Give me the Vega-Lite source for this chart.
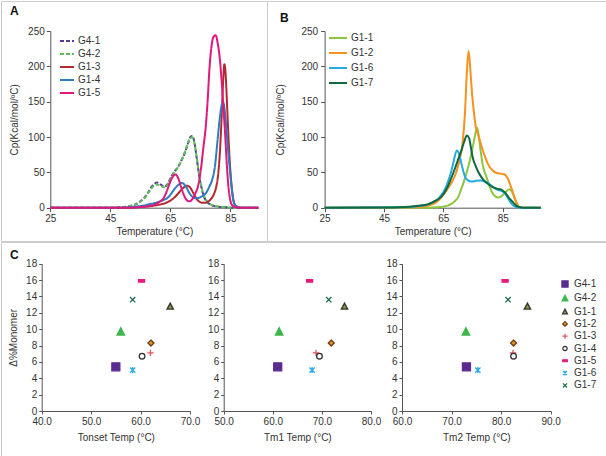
{
"$schema": "https://vega.github.io/schema/vega-lite/v6.json",
"padding": 0,
"background": "white",
"config": {
  "font": "Liberation Sans",
  "view": {"stroke": "#cccccc", "strokeWidth": 1},
  "axis": {"labelFontSize": 10, "titleFontSize": 10, "labelColor": "#333333", "titleColor": "#333333", "titleFontWeight": "normal", "domainColor": "#555555", "tickColor": "#555555", "grid": false, "tickSize": 4, "labelPadding": 2, "labelFlush": false},
  "legend": {"labelFontSize": 10, "labelColor": "#333333", "padding": 0},
  "title": {"fontSize": 12, "fontWeight": "bold", "anchor": "start", "frame": "group", "baseline": "top", "offset": 0, "color": "#111111"}
},
"datasets": {
  "curvesA": [
{"s":"G4-1","t":25,"cp":0},{"s":"G4-1","t":45,"cp":0},{"s":"G4-1","t":48,"cp":0.5},{"s":"G4-1","t":51,"cp":2},{"s":"G4-1","t":53,"cp":4},{"s":"G4-1","t":55,"cp":9},{"s":"G4-1","t":56.5,"cp":15},{"s":"G4-1","t":57.5,"cp":21},{"s":"G4-1","t":58.5,"cp":28},{"s":"G4-1","t":59.5,"cp":33},{"s":"G4-1","t":60.6,"cp":35.5},{"s":"G4-1","t":61.7,"cp":33},{"s":"G4-1","t":63,"cp":30},{"s":"G4-1","t":64,"cp":33},{"s":"G4-1","t":65.2,"cp":43},{"s":"G4-1","t":66.3,"cp":51},{"s":"G4-1","t":67.5,"cp":57},{"s":"G4-1","t":68.6,"cp":66},{"s":"G4-1","t":69.7,"cp":76},{"s":"G4-1","t":70.8,"cp":90},{"s":"G4-1","t":71.7,"cp":100},{"s":"G4-1","t":72.3,"cp":101.5},{"s":"G4-1","t":73,"cp":93},{"s":"G4-1","t":73.6,"cp":76},{"s":"G4-1","t":74.2,"cp":57},{"s":"G4-1","t":74.7,"cp":42},{"s":"G4-1","t":75.3,"cp":30},{"s":"G4-1","t":75.8,"cp":21},{"s":"G4-1","t":76.6,"cp":12},{"s":"G4-1","t":77.5,"cp":7},{"s":"G4-1","t":78.5,"cp":4},{"s":"G4-1","t":80,"cp":2},{"s":"G4-1","t":82,"cp":1},{"s":"G4-1","t":84,"cp":0.5},{"s":"G4-1","t":86,"cp":0},{"s":"G4-1","t":94.3,"cp":0},
{"s":"G4-2","t":25,"cp":0},{"s":"G4-2","t":45,"cp":0},{"s":"G4-2","t":48,"cp":0.4},{"s":"G4-2","t":51,"cp":1.8},{"s":"G4-2","t":53,"cp":3.8},{"s":"G4-2","t":55,"cp":8.5},{"s":"G4-2","t":56.5,"cp":14},{"s":"G4-2","t":57.5,"cp":20},{"s":"G4-2","t":58.5,"cp":26},{"s":"G4-2","t":59.5,"cp":31},{"s":"G4-2","t":60.6,"cp":33},{"s":"G4-2","t":61.7,"cp":31},{"s":"G4-2","t":63,"cp":29},{"s":"G4-2","t":64,"cp":32},{"s":"G4-2","t":65.2,"cp":42},{"s":"G4-2","t":66.3,"cp":50},{"s":"G4-2","t":67.5,"cp":57},{"s":"G4-2","t":68.6,"cp":66},{"s":"G4-2","t":69.7,"cp":77},{"s":"G4-2","t":70.8,"cp":91},{"s":"G4-2","t":71.7,"cp":99},{"s":"G4-2","t":72.3,"cp":99.5},{"s":"G4-2","t":73,"cp":92},{"s":"G4-2","t":73.6,"cp":77},{"s":"G4-2","t":74.2,"cp":58},{"s":"G4-2","t":74.7,"cp":43},{"s":"G4-2","t":75.3,"cp":31},{"s":"G4-2","t":75.8,"cp":22},{"s":"G4-2","t":76.6,"cp":13},{"s":"G4-2","t":77.5,"cp":7.5},{"s":"G4-2","t":78.5,"cp":4.5},{"s":"G4-2","t":80,"cp":2.5},{"s":"G4-2","t":82,"cp":1.2},{"s":"G4-2","t":84,"cp":0.5},{"s":"G4-2","t":86,"cp":0},{"s":"G4-2","t":94.3,"cp":0},
{"s":"G1-3","t":25,"cp":0},{"s":"G1-3","t":50,"cp":0},{"s":"G1-3","t":55,"cp":1},{"s":"G1-3","t":58,"cp":2},{"s":"G1-3","t":61,"cp":4},{"s":"G1-3","t":63,"cp":6},{"s":"G1-3","t":65,"cp":10},{"s":"G1-3","t":66.5,"cp":15},{"s":"G1-3","t":68,"cp":22},{"s":"G1-3","t":69.3,"cp":28},{"s":"G1-3","t":70.5,"cp":31},{"s":"G1-3","t":71.5,"cp":29},{"s":"G1-3","t":72.5,"cp":22},{"s":"G1-3","t":73.5,"cp":14},{"s":"G1-3","t":74.5,"cp":9},{"s":"G1-3","t":75.5,"cp":7},{"s":"G1-3","t":76.5,"cp":7},{"s":"G1-3","t":77.5,"cp":8.5},{"s":"G1-3","t":78.5,"cp":12},{"s":"G1-3","t":79.5,"cp":19},{"s":"G1-3","t":80.3,"cp":30},{"s":"G1-3","t":81,"cp":50},{"s":"G1-3","t":81.6,"cp":85},{"s":"G1-3","t":82.1,"cp":130},{"s":"G1-3","t":82.6,"cp":180},{"s":"G1-3","t":83,"cp":203},{"s":"G1-3","t":83.4,"cp":190},{"s":"G1-3","t":83.8,"cp":155},{"s":"G1-3","t":84.2,"cp":115},{"s":"G1-3","t":84.6,"cp":80},{"s":"G1-3","t":85,"cp":52},{"s":"G1-3","t":85.5,"cp":27},{"s":"G1-3","t":86,"cp":11},{"s":"G1-3","t":86.5,"cp":4},{"s":"G1-3","t":87.5,"cp":1},{"s":"G1-3","t":89,"cp":0},{"s":"G1-3","t":94.3,"cp":0},
{"s":"G1-4","t":25,"cp":0},{"s":"G1-4","t":48,"cp":0},{"s":"G1-4","t":52,"cp":1},{"s":"G1-4","t":56,"cp":3},{"s":"G1-4","t":58,"cp":5},{"s":"G1-4","t":60.2,"cp":7},{"s":"G1-4","t":62,"cp":10},{"s":"G1-4","t":64.1,"cp":14},{"s":"G1-4","t":65.3,"cp":20},{"s":"G1-4","t":66.3,"cp":26},{"s":"G1-4","t":67.6,"cp":32},{"s":"G1-4","t":68.8,"cp":35},{"s":"G1-4","t":70,"cp":31},{"s":"G1-4","t":71.3,"cp":21},{"s":"G1-4","t":72.3,"cp":15.5},{"s":"G1-4","t":73.5,"cp":13.5},{"s":"G1-4","t":74.5,"cp":14},{"s":"G1-4","t":75.7,"cp":16.5},{"s":"G1-4","t":76.9,"cp":21},{"s":"G1-4","t":78,"cp":30},{"s":"G1-4","t":79.1,"cp":42},{"s":"G1-4","t":79.9,"cp":60},{"s":"G1-4","t":80.6,"cp":90},{"s":"G1-4","t":81.3,"cp":120},{"s":"G1-4","t":82,"cp":143},{"s":"G1-4","t":82.5,"cp":150},{"s":"G1-4","t":83.1,"cp":138},{"s":"G1-4","t":83.7,"cp":110},{"s":"G1-4","t":84.3,"cp":78},{"s":"G1-4","t":84.8,"cp":55},{"s":"G1-4","t":85.3,"cp":33},{"s":"G1-4","t":85.8,"cp":15},{"s":"G1-4","t":86.4,"cp":5},{"s":"G1-4","t":87.2,"cp":1.5},{"s":"G1-4","t":88.5,"cp":0},{"s":"G1-4","t":94.3,"cp":0},
{"s":"G1-5","t":25,"cp":0},{"s":"G1-5","t":50,"cp":0},{"s":"G1-5","t":55,"cp":1},{"s":"G1-5","t":58,"cp":2.5},{"s":"G1-5","t":60.2,"cp":5},{"s":"G1-5","t":61.5,"cp":8.5},{"s":"G1-5","t":62.5,"cp":12},{"s":"G1-5","t":63.5,"cp":20},{"s":"G1-5","t":64.3,"cp":29},{"s":"G1-5","t":65.3,"cp":40},{"s":"G1-5","t":66.7,"cp":47},{"s":"G1-5","t":67.7,"cp":41},{"s":"G1-5","t":68.6,"cp":29},{"s":"G1-5","t":69.5,"cp":18},{"s":"G1-5","t":70.5,"cp":10.5},{"s":"G1-5","t":71.3,"cp":9},{"s":"G1-5","t":72.3,"cp":12},{"s":"G1-5","t":73.3,"cp":20},{"s":"G1-5","t":74.3,"cp":32},{"s":"G1-5","t":75.2,"cp":55},{"s":"G1-5","t":76,"cp":85},{"s":"G1-5","t":76.8,"cp":115},{"s":"G1-5","t":77.4,"cp":150},{"s":"G1-5","t":78,"cp":195},{"s":"G1-5","t":78.7,"cp":228},{"s":"G1-5","t":79.4,"cp":242},{"s":"G1-5","t":80.1,"cp":244},{"s":"G1-5","t":80.8,"cp":232},{"s":"G1-5","t":81.5,"cp":210},{"s":"G1-5","t":82.1,"cp":178},{"s":"G1-5","t":82.7,"cp":140},{"s":"G1-5","t":83.3,"cp":100},{"s":"G1-5","t":83.8,"cp":62},{"s":"G1-5","t":84.3,"cp":32},{"s":"G1-5","t":84.9,"cp":12},{"s":"G1-5","t":85.5,"cp":4},{"s":"G1-5","t":86.5,"cp":1},{"s":"G1-5","t":88,"cp":0},{"s":"G1-5","t":94.3,"cp":0}
  ],
  "curvesB": [
{"s":"G1-1","t":25,"cp":0},{"s":"G1-1","t":60,"cp":0},{"s":"G1-1","t":63,"cp":0.5},{"s":"G1-1","t":65,"cp":1.5},{"s":"G1-1","t":66.5,"cp":3},{"s":"G1-1","t":67.6,"cp":5},{"s":"G1-1","t":68.8,"cp":9},{"s":"G1-1","t":70,"cp":15},{"s":"G1-1","t":71,"cp":26},{"s":"G1-1","t":72,"cp":38},{"s":"G1-1","t":73,"cp":52},{"s":"G1-1","t":74,"cp":68},{"s":"G1-1","t":75,"cp":88},{"s":"G1-1","t":75.8,"cp":105},{"s":"G1-1","t":76.4,"cp":113},{"s":"G1-1","t":77.1,"cp":96},{"s":"G1-1","t":77.7,"cp":76},{"s":"G1-1","t":78.4,"cp":58},{"s":"G1-1","t":79.4,"cp":45},{"s":"G1-1","t":80.5,"cp":31},{"s":"G1-1","t":81.5,"cp":21},{"s":"G1-1","t":82.5,"cp":16},{"s":"G1-1","t":83.5,"cp":14.5},{"s":"G1-1","t":84.5,"cp":16},{"s":"G1-1","t":85.7,"cp":21},{"s":"G1-1","t":87.3,"cp":26},{"s":"G1-1","t":88.3,"cp":21},{"s":"G1-1","t":89.2,"cp":11},{"s":"G1-1","t":90,"cp":3},{"s":"G1-1","t":91,"cp":0},{"s":"G1-1","t":97.8,"cp":0},
{"s":"G1-2","t":25,"cp":0},{"s":"G1-2","t":55,"cp":0.5},{"s":"G1-2","t":58,"cp":1.5},{"s":"G1-2","t":60,"cp":3},{"s":"G1-2","t":62,"cp":6},{"s":"G1-2","t":63.5,"cp":11},{"s":"G1-2","t":65,"cp":18},{"s":"G1-2","t":66.5,"cp":27},{"s":"G1-2","t":68,"cp":37},{"s":"G1-2","t":69.5,"cp":52},{"s":"G1-2","t":70.5,"cp":68},{"s":"G1-2","t":71.5,"cp":92},{"s":"G1-2","t":72.3,"cp":135},{"s":"G1-2","t":72.9,"cp":190},{"s":"G1-2","t":73.5,"cp":222},{"s":"G1-2","t":74.1,"cp":195},{"s":"G1-2","t":74.7,"cp":160},{"s":"G1-2","t":75.3,"cp":135},{"s":"G1-2","t":76,"cp":113},{"s":"G1-2","t":76.6,"cp":105},{"s":"G1-2","t":77.3,"cp":95},{"s":"G1-2","t":78,"cp":85},{"s":"G1-2","t":78.8,"cp":75},{"s":"G1-2","t":80,"cp":62},{"s":"G1-2","t":81.5,"cp":53},{"s":"G1-2","t":83,"cp":49},{"s":"G1-2","t":84.5,"cp":48},{"s":"G1-2","t":85.7,"cp":47},{"s":"G1-2","t":86.6,"cp":42},{"s":"G1-2","t":87.5,"cp":33},{"s":"G1-2","t":88.4,"cp":22},{"s":"G1-2","t":89.5,"cp":9},{"s":"G1-2","t":90.6,"cp":1},{"s":"G1-2","t":91.5,"cp":0},{"s":"G1-2","t":97.8,"cp":0},
{"s":"G1-6","t":25,"cp":0},{"s":"G1-6","t":50,"cp":0.5},{"s":"G1-6","t":55,"cp":1.5},{"s":"G1-6","t":58,"cp":3},{"s":"G1-6","t":60,"cp":5},{"s":"G1-6","t":61.5,"cp":8},{"s":"G1-6","t":63.1,"cp":12},{"s":"G1-6","t":64.2,"cp":17},{"s":"G1-6","t":65.3,"cp":24},{"s":"G1-6","t":66.5,"cp":36},{"s":"G1-6","t":67.6,"cp":50},{"s":"G1-6","t":68.6,"cp":68},{"s":"G1-6","t":69.5,"cp":81},{"s":"G1-6","t":70.3,"cp":76},{"s":"G1-6","t":71,"cp":64},{"s":"G1-6","t":71.7,"cp":52},{"s":"G1-6","t":72.4,"cp":43},{"s":"G1-6","t":73.2,"cp":39},{"s":"G1-6","t":74.5,"cp":37},{"s":"G1-6","t":76,"cp":38},{"s":"G1-6","t":77.5,"cp":38.5},{"s":"G1-6","t":79,"cp":37},{"s":"G1-6","t":80,"cp":35},{"s":"G1-6","t":81.2,"cp":31},{"s":"G1-6","t":82.2,"cp":28},{"s":"G1-6","t":83.5,"cp":25},{"s":"G1-6","t":84.4,"cp":24},{"s":"G1-6","t":85.3,"cp":22},{"s":"G1-6","t":86.3,"cp":17},{"s":"G1-6","t":87.3,"cp":10},{"s":"G1-6","t":88.3,"cp":4},{"s":"G1-6","t":89.5,"cp":1},{"s":"G1-6","t":90.5,"cp":0},{"s":"G1-6","t":97.8,"cp":0},
{"s":"G1-7","t":25,"cp":0},{"s":"G1-7","t":48,"cp":0.3},{"s":"G1-7","t":52,"cp":1},{"s":"G1-7","t":55,"cp":2},{"s":"G1-7","t":58,"cp":3.5},{"s":"G1-7","t":60,"cp":5},{"s":"G1-7","t":61,"cp":7},{"s":"G1-7","t":62.5,"cp":10},{"s":"G1-7","t":64.2,"cp":15},{"s":"G1-7","t":65.3,"cp":21},{"s":"G1-7","t":66.5,"cp":30},{"s":"G1-7","t":67.6,"cp":41},{"s":"G1-7","t":68.7,"cp":53},{"s":"G1-7","t":69.8,"cp":66},{"s":"G1-7","t":71,"cp":80},{"s":"G1-7","t":72,"cp":93},{"s":"G1-7","t":72.9,"cp":102},{"s":"G1-7","t":73.7,"cp":98},{"s":"G1-7","t":74.3,"cp":85},{"s":"G1-7","t":74.9,"cp":71},{"s":"G1-7","t":75.7,"cp":61},{"s":"G1-7","t":76.6,"cp":52},{"s":"G1-7","t":77.7,"cp":44},{"s":"G1-7","t":78.8,"cp":38},{"s":"G1-7","t":80,"cp":34},{"s":"G1-7","t":81.6,"cp":29},{"s":"G1-7","t":83,"cp":27},{"s":"G1-7","t":84.4,"cp":26},{"s":"G1-7","t":85.1,"cp":24},{"s":"G1-7","t":86.1,"cp":20},{"s":"G1-7","t":87.1,"cp":14},{"s":"G1-7","t":88.4,"cp":8},{"s":"G1-7","t":89.5,"cp":3},{"s":"G1-7","t":90.6,"cp":1},{"s":"G1-7","t":92,"cp":0},{"s":"G1-7","t":97.8,"cp":0}
  ],
  "scatter": [
{"s":"G4-1","tonset":55.0,"tm1":61.0,"tm2":73.0,"dm":5.4},
{"s":"G4-2","tonset":56.0,"tm1":61.3,"tm2":72.9,"dm":9.7},
{"s":"G1-1","tonset":66.0,"tm1":74.6,"tm2":85.3,"dm":12.8},
{"s":"G1-2","tonset":62.1,"tm1":71.9,"tm2":82.5,"dm":8.3},
{"s":"G1-3","tonset":62.0,"tm1":68.8,"tm2":82.4,"dm":7.1},
{"s":"G1-4","tonset":60.3,"tm1":69.5,"tm2":82.5,"dm":6.7},
{"s":"G1-5","tonset":60.2,"tm1":67.5,"tm2":80.8,"dm":15.9},
{"s":"G1-6","tonset":58.4,"tm1":68.0,"tm2":75.3,"dm":5.0},
{"s":"G1-7","tonset":58.4,"tm1":71.4,"tm2":81.4,"dm":13.6}
  ]
},
"spacing": -1,
"resolve": {"scale": {"x": "independent", "y": "independent", "color": "independent", "strokeDash": "independent", "shape": "independent", "fill": "independent", "stroke": "independent"}},
"vconcat": [
  {
    "bounds": "flush",
    "spacing": 0,
    "resolve": {"scale": {"x": "independent", "y": "independent", "color": "independent", "strokeDash": "independent"}},
    "hconcat": [
      {
        "width": 266, "height": 240,
        "title": {"text": "A", "dx": 9, "dy": 21},
        "data": {"name": "curvesA"},
        "mark": {"type": "line", "strokeWidth": 2, "interpolate": "monotone"},
        "encoding": {
          "x": {"field": "t", "type": "quantitative", "scale": {"domain": [25, 94.3], "range": [49.3, 257.3], "nice": false, "zero": false}, "axis": {"title": "Temperature (°C)", "values": [25, 45, 65, 85], "offset": -33.3, "titlePadding": 3}},
          "y": {"field": "cp", "type": "quantitative", "scale": {"domain": [0, 250], "range": [206.7, 30], "nice": false}, "axis": {"title": "Cp(Kcal/mol/ºC)", "values": [0, 50, 100, 150, 200, 250], "offset": -49.3, "titlePadding": 8}},
          "color": {"field": "s", "type": "nominal", "title": null, "scale": {"domain": ["G4-1", "G4-2", "G1-3", "G1-4", "G1-5"], "range": ["#5b3a96", "#5bbf5b", "#b22a30", "#2e7dbf", "#e0177c"]}, "legend": {"orient": "none", "legendX": 58, "legendY": 32, "symbolType": "stroke", "symbolSize": 196, "symbolStrokeWidth": 2, "rowPadding": 0, "labelOffset": 3}},
          "strokeDash": {"field": "s", "type": "nominal", "title": null, "scale": {"domain": ["G4-1", "G4-2", "G1-3", "G1-4", "G1-5"], "range": [[4, 2], [4, 2], [1, 0], [1, 0], [1, 0]]}, "legend": {"orient": "none", "legendX": 58, "legendY": 32, "symbolType": "stroke", "symbolSize": 196, "symbolStrokeWidth": 2, "rowPadding": 0, "labelOffset": 3}}
        }
      },
      {
        "width": 340, "height": 240,
        "title": {"text": "B", "dx": 13, "dy": 28},
        "data": {"name": "curvesB"},
        "mark": {"type": "line", "strokeWidth": 2, "interpolate": "monotone"},
        "encoding": {
          "x": {"field": "t", "type": "quantitative", "scale": {"domain": [25, 97.8], "range": [57.6, 273.7], "nice": false, "zero": false}, "axis": {"title": "Temperature (°C)", "values": [25, 45, 65, 85], "offset": -33.3, "titlePadding": 3}},
          "y": {"field": "cp", "type": "quantitative", "scale": {"domain": [0, 250], "range": [206.7, 30], "nice": false}, "axis": {"title": "Cp(Kcal/mol/ºC)", "values": [0, 50, 100, 150, 200, 250], "offset": -57.6, "labelPadding": 3, "titlePadding": 15}},
          "color": {"field": "s", "type": "nominal", "title": null, "scale": {"domain": ["G1-1", "G1-2", "G1-6", "G1-7"], "range": ["#8cc63f", "#f6921e", "#27aae1", "#0f6b3f"]}, "legend": {"orient": "none", "legendX": 61, "legendY": 27, "symbolType": "stroke", "symbolSize": 324, "symbolStrokeWidth": 2, "rowPadding": -2, "labelOffset": 3}}
        }
      }
    ]
  },
  {
    "width": 606, "height": 216,
    "title": {"text": "C", "dx": 9, "dy": 23.5},
    "data": {"name": "scatter"},
    "resolve": {"scale": {"x": "independent", "y": "independent"}, "axis": {"x": "independent", "y": "independent"}},
    "layer": [
      {
        "mark": {"type": "point", "filled": true, "opacity": 1, "strokeWidth": 1.3, "size": 50},
        "encoding": {
          "x": {"field": "tonset", "type": "quantitative", "scale": {"domain": [40, 70], "range": [40.7, 189], "nice": false, "zero": false}, "axis": {"title": "Tonset Temp (°C)", "values": [40, 50, 60, 70], "format": ".1f", "orient": "bottom", "offset": -47, "tickSize": 3, "titlePadding": 6}},
          "y": {"field": "dm", "type": "quantitative", "scale": {"domain": [0, 18], "range": [169, 21.7], "nice": false}, "axis": {"title": "Δ%Monomer", "values": [0, 2, 4, 6, 8, 10, 12, 14, 16, 18], "orient": "left", "offset": -40.7, "tickSize": 3, "titlePadding": 7}},
          "shape": {"field": "s", "type": "nominal", "title": null, "scale": {"domain": ["G4-1", "G4-2", "G1-1", "G1-2", "G1-3", "G1-4", "G1-5", "G1-6", "G1-7"], "range": ["M-1.13,-1.13H1.13V1.13H-1.13Z", "M0,-1.1L1.05,0.95L-1.05,0.95Z", "M0,-0.9L0.9,0.8L-0.9,0.8Z", "M0,-0.85L0.85,0L0,0.85L-0.85,0Z", "M-0.9,0H0.9M0,-0.9V0.9", "M-0.8,0A0.8,0.8,0,1,0,0.8,0A0.8,0.8,0,1,0,-0.8,0Z", "M-0.85,-0.35H0.85V0.35H-0.85Z", "M-0.75,-0.75L0.75,0.75M-0.75,0.75L0.75,-0.75M0,-0.9V0.9", "M-0.75,-0.75L0.75,0.75M-0.75,0.75L0.75,-0.75"]}, "legend": {"orient": "none", "legendX": 559, "legendY": 37, "symbolSize": 30, "symbolStrokeWidth": 1.2, "rowPadding": 2.3, "labelOffset": 4}},
          "fill": {"field": "s", "type": "nominal", "title": null, "scale": {"domain": ["G4-1", "G4-2", "G1-1", "G1-2", "G1-3", "G1-4", "G1-5", "G1-6", "G1-7"], "range": ["#5b2c8f", "#3db54a", "#8a9a3c", "#e0902c", "transparent", "#ffffff", "#e6197d", "transparent", "transparent"]}, "legend": {"orient": "none", "legendX": 559, "legendY": 37, "symbolSize": 30, "symbolStrokeWidth": 1.2, "rowPadding": 2.3, "labelOffset": 4}},
          "stroke": {"field": "s", "type": "nominal", "title": null, "scale": {"domain": ["G4-1", "G4-2", "G1-1", "G1-2", "G1-3", "G1-4", "G1-5", "G1-6", "G1-7"], "range": ["#5b2c8f", "#3db54a", "#333333", "#6b3d10", "#e8505a", "#333333", "#e6197d", "#29abe2", "#1b6b4a"]}, "legend": {"orient": "none", "legendX": 559, "legendY": 37, "symbolSize": 30, "symbolStrokeWidth": 1.2, "rowPadding": 2.3, "labelOffset": 4}}
        }
      },
      {
        "mark": {"type": "point", "filled": true, "opacity": 1, "strokeWidth": 1.3, "size": 50},
        "encoding": {
          "x": {"field": "tm1", "type": "quantitative", "scale": {"domain": [50, 80], "range": [222.7, 370], "nice": false, "zero": false}, "axis": {"title": "Tm1 Temp (°C)", "values": [50, 60, 70, 80], "format": ".1f", "orient": "bottom", "offset": -47, "tickSize": 3, "titlePadding": 6}},
          "y": {"field": "dm", "type": "quantitative", "scale": {"domain": [0, 18], "range": [169, 21.7], "nice": false}, "axis": {"title": null, "values": [0, 2, 4, 6, 8, 10, 12, 14, 16, 18], "orient": "left", "offset": -222.7, "tickSize": 3}},
          "shape": {"field": "s", "type": "nominal", "title": null, "scale": {"domain": ["G4-1", "G4-2", "G1-1", "G1-2", "G1-3", "G1-4", "G1-5", "G1-6", "G1-7"], "range": ["M-1.13,-1.13H1.13V1.13H-1.13Z", "M0,-1.1L1.05,0.95L-1.05,0.95Z", "M0,-0.9L0.9,0.8L-0.9,0.8Z", "M0,-0.85L0.85,0L0,0.85L-0.85,0Z", "M-0.9,0H0.9M0,-0.9V0.9", "M-0.8,0A0.8,0.8,0,1,0,0.8,0A0.8,0.8,0,1,0,-0.8,0Z", "M-0.85,-0.35H0.85V0.35H-0.85Z", "M-0.75,-0.75L0.75,0.75M-0.75,0.75L0.75,-0.75M0,-0.9V0.9", "M-0.75,-0.75L0.75,0.75M-0.75,0.75L0.75,-0.75"]}},
          "fill": {"field": "s", "type": "nominal", "title": null, "scale": {"domain": ["G4-1", "G4-2", "G1-1", "G1-2", "G1-3", "G1-4", "G1-5", "G1-6", "G1-7"], "range": ["#5b2c8f", "#3db54a", "#8a9a3c", "#e0902c", "transparent", "#ffffff", "#e6197d", "transparent", "transparent"]}},
          "stroke": {"field": "s", "type": "nominal", "title": null, "scale": {"domain": ["G4-1", "G4-2", "G1-1", "G1-2", "G1-3", "G1-4", "G1-5", "G1-6", "G1-7"], "range": ["#5b2c8f", "#3db54a", "#333333", "#6b3d10", "#e8505a", "#333333", "#e6197d", "#29abe2", "#1b6b4a"]}}
        }
      },
      {
        "mark": {"type": "point", "filled": true, "opacity": 1, "strokeWidth": 1.3, "size": 50},
        "encoding": {
          "x": {"field": "tm2", "type": "quantitative", "scale": {"domain": [60, 90], "range": [401, 549.7], "nice": false, "zero": false}, "axis": {"title": "Tm2 Temp (°C)", "values": [60, 70, 80, 90], "format": ".1f", "orient": "bottom", "offset": -47, "tickSize": 3, "titlePadding": 6}},
          "y": {"field": "dm", "type": "quantitative", "scale": {"domain": [0, 18], "range": [169, 21.7], "nice": false}, "axis": {"title": null, "values": [0, 2, 4, 6, 8, 10, 12, 14, 16, 18], "orient": "left", "offset": -401, "tickSize": 3}},
          "shape": {"field": "s", "type": "nominal", "title": null, "scale": {"domain": ["G4-1", "G4-2", "G1-1", "G1-2", "G1-3", "G1-4", "G1-5", "G1-6", "G1-7"], "range": ["M-1.13,-1.13H1.13V1.13H-1.13Z", "M0,-1.1L1.05,0.95L-1.05,0.95Z", "M0,-0.9L0.9,0.8L-0.9,0.8Z", "M0,-0.85L0.85,0L0,0.85L-0.85,0Z", "M-0.9,0H0.9M0,-0.9V0.9", "M-0.8,0A0.8,0.8,0,1,0,0.8,0A0.8,0.8,0,1,0,-0.8,0Z", "M-0.85,-0.35H0.85V0.35H-0.85Z", "M-0.75,-0.75L0.75,0.75M-0.75,0.75L0.75,-0.75M0,-0.9V0.9", "M-0.75,-0.75L0.75,0.75M-0.75,0.75L0.75,-0.75"]}},
          "fill": {"field": "s", "type": "nominal", "title": null, "scale": {"domain": ["G4-1", "G4-2", "G1-1", "G1-2", "G1-3", "G1-4", "G1-5", "G1-6", "G1-7"], "range": ["#5b2c8f", "#3db54a", "#8a9a3c", "#e0902c", "transparent", "#ffffff", "#e6197d", "transparent", "transparent"]}},
          "stroke": {"field": "s", "type": "nominal", "title": null, "scale": {"domain": ["G4-1", "G4-2", "G1-1", "G1-2", "G1-3", "G1-4", "G1-5", "G1-6", "G1-7"], "range": ["#5b2c8f", "#3db54a", "#333333", "#6b3d10", "#e8505a", "#333333", "#e6197d", "#29abe2", "#1b6b4a"]}}
        }
      }
    ]
  }
]
}
